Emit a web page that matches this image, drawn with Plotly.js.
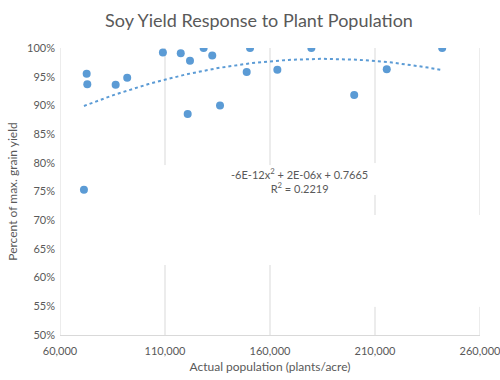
<!DOCTYPE html>
<html>
<head>
<meta charset="utf-8">
<script src="https://cdn.plot.ly/plotly-3.0.1.min.js"></script>
<style>html,body{margin:0;padding:0;background:#fff;}#chart{width:500px;height:380px;}</style>
</head>
<body>
<div id="chart"></div>
<script>
// Data
var population = [72700, 73000, 86500, 92000, 109000, 117500, 121900, 120800, 128400, 132500,
                  136200, 148900, 150500, 163500, 179700, 200100, 215600, 242000, 71400];
var yieldPct = [0.955, 0.937, 0.936, 0.948, 0.992, 0.991, 0.978, 0.885, 1.000, 0.987,
                0.900, 0.958, 1.000, 0.962, 1.000, 0.918, 0.963, 1.000, 0.753];
var xTicks = [60000, 110000, 160000, 210000, 260000];
var trendLabel = "-6E-12x<sup>2</sup> + 2E-06x + 0.7665<br>R<sup>2</sup> = 0.2219";

// Least-squares quadratic fit (Excel polynomial trendline, order 2)
function quadFit(xs, ys) {
  var s = 1e5, S = [0,0,0,0,0], T = [0,0,0];
  for (var i = 0; i < xs.length; i++) {
    var u = xs[i] / s, p = 1;
    for (var k = 0; k < 5; k++) { S[k] += p; p *= u; }
    T[0] += ys[i]; T[1] += ys[i]*u; T[2] += ys[i]*u*u;
  }
  var A = [[S[0],S[1],S[2],T[0]],[S[1],S[2],S[3],T[1]],[S[2],S[3],S[4],T[2]]];
  for (var c = 0; c < 3; c++) {
    for (var r = c+1; r < 3; r++) {
      var f = A[r][c]/A[c][c];
      for (var k2 = c; k2 < 4; k2++) A[r][k2] -= f*A[c][k2];
    }
  }
  var b = [0,0,0];
  for (var r2 = 2; r2 >= 0; r2--) {
    var v = A[r2][3];
    for (var k3 = r2+1; k3 < 3; k3++) v -= A[r2][k3]*b[k3];
    b[r2] = v / A[r2][r2];
  }
  return function(x){ var u = x/s; return b[0] + b[1]*u + b[2]*u*u; };
}
var fit = quadFit(population, yieldPct);
var xmin = Math.min.apply(null, population), xmax = Math.max.apply(null, population);
var tx = [], ty = [];
for (var i = 0; i <= 100; i++) { var xv = xmin + (xmax - xmin) * i / 100; tx.push(xv); ty.push(fit(xv)); }

var grey = '#595959', gridc = '#d9d9d9';
var font = 'Lato, "Open Sans", sans-serif';

// gridline segments (paper y) as visible in the reference
var segs = {
  60000: [[0,1]],
  110000: [[0,0.244],[0.592,1]],
  160000: [[0,0.244],[0.592,1]],
  210000: [[0,0.098],[0.418,0.488],[0.599,1]],
  260000: [[0,0.098],[0.418,1]]
};
var shapes = [];
xTicks.forEach(function(t){
  segs[t].forEach(function(s){
    shapes.push({type:'line', xref:'x', yref:'paper', x0:t, x1:t, y0:s[0], y1:s[1],
                 line:{color:gridc, width:1}, layer:'below'});
  });
});

var traces = [
  {x: population, y: yieldPct, type:'scatter', mode:'markers',
   marker:{color:'#5B9BD5', size:8}, hoverinfo:'x+y', showlegend:false},
  {x: tx, y: ty, type:'scatter', mode:'lines',
   line:{color:'#5B9BD5', width:2, dash:'dot'}, hoverinfo:'skip', showlegend:false}
];

var pw = 500-60-20, ph = 380-48-45;
var layout = {
  width:500, height:380,
  margin:{l:60, r:20, t:48, b:45},
  paper_bgcolor:'#fff', plot_bgcolor:'#fff',
  font:{family:font, color:grey, size:12},
  title:{text:'Soy Yield Response to Plant Population', font:{family:font, size:18, color:grey},
         x:0.518, xanchor:'center', y:0.945, yanchor:'middle'},
  xaxis:{range:[60000,260000], tickvals:xTicks, tickformat:',d', showgrid:false, zeroline:false,
         showline:true, linecolor:gridc, linewidth:1, ticks:'', tickfont:{size:11, color:grey},
         ticklabeloverflow:'allow', ticklabelstandoff:6,
         title:{text:'Actual population (plants/acre)', font:{size:12, color:grey}, standoff:6}},
  yaxis:{range:[0.5,1.0], dtick:0.05, tick0:0.5, tickformat:'.0%', showgrid:false, zeroline:false,
         showline:false, ticks:'', ticklabelstandoff:4, tickfont:{size:11, color:grey},
         title:{text:'Percent of max. grain yield', font:{size:12, color:grey}, standoff:6}},
  shapes: shapes,
  annotations:[{x:(370-60)/pw, y:(335-180)/ph, xref:'paper', yref:'paper', text:trendLabel,
                showarrow:false, font:{size:11, color:grey}, align:'center'}]
};
Plotly.newPlot('chart', traces, layout, {displayModeBar:false, staticPlot:true});
</script>
</body>
</html>
